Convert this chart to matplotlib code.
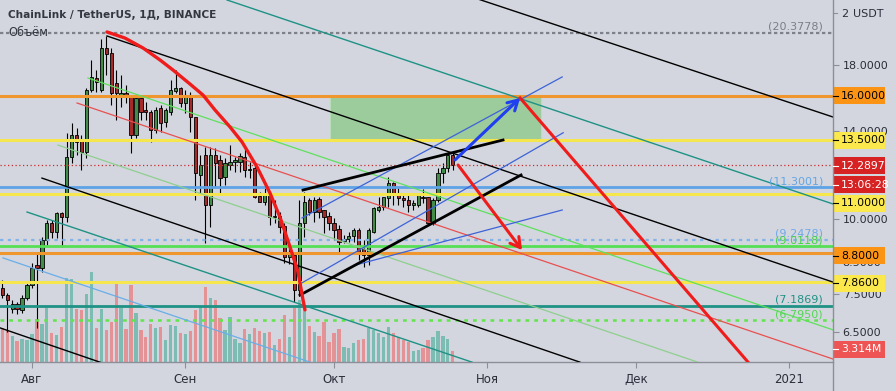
import matplotlib
matplotlib.use("Agg")
import matplotlib.pyplot as plt
import numpy as np
import pandas as pd
from matplotlib.lines import Line2D
from matplotlib.patches import Rectangle
from matplotlib.ticker import FixedLocator, NullLocator
from matplotlib.transforms import IdentityTransform

# ---- data ----
ORIGIN = pd.Timestamp("2020-08-01")
dates = pd.date_range("2020-07-26", "2020-10-25", freq="D")

opens = [7.68, 7.48, 7.09, 7.23, 7.07, 7.40,
         7.77, 8.39, 8.29, 9.23, 9.85, 9.52, 10.23, 10.07, 12.67, 13.78,
         13.52, 12.91, 16.36, 17.13, 16.36, 19.20, 18.81, 16.81, 16.05, 16.17,
         16.05, 13.78, 15.87, 15.16, 15.05, 14.05, 15.27, 14.48, 15.05, 16.30,
         16.49, 15.57, 15.93, 14.76, 11.83, 12.77, 10.55, 12.77, 12.53, 11.74,
         12.29, 12.43, 12.43, 12.67, 12.06, 12.15, 10.92, 10.67, 11.04, 10.07,
         10.11, 9.74, 8.65, 8.72, 7.63, 9.85, 10.75, 10.27, 10.79, 10.35,
         10.11, 9.85, 9.63, 9.19, 9.27, 9.37, 9.59, 8.92, 8.72, 9.52,
         10.35, 10.47, 10.83, 11.47, 11.04, 10.83, 10.75, 10.55, 10.55, 10.88,
         10.88, 9.85, 10.75, 11.92, 12.15, 12.77]
highs = [7.92, 7.54, 7.34, 7.28, 7.48, 7.86,
         8.45, 8.79, 9.34, 9.96, 9.96, 10.27, 10.27, 13.89, 14.43, 14.16,
         13.78, 16.49, 18.35, 17.66, 19.88, 20.10, 19.20, 17.66, 17.33, 16.68,
         16.05, 16.05, 15.93, 15.63, 15.16, 15.33, 15.45, 15.27, 17.00, 17.66,
         16.55, 16.36, 16.24, 14.76, 12.77, 13.16, 13.16, 13.11, 12.77, 12.62,
         13.26, 12.67, 12.87, 13.21, 12.43, 12.29, 11.08, 11.26, 11.08, 10.75,
         10.27, 9.85, 8.99, 8.79, 10.75, 11.08, 10.83, 10.88, 10.88, 10.35,
         10.27, 10.03, 9.77, 9.41, 9.52, 9.66, 9.66, 9.23, 9.66, 10.47,
         10.88, 10.88, 11.74, 11.52, 11.26, 11.04, 10.96, 10.75, 11.04, 11.21,
         10.88, 10.83, 12.15, 12.39, 12.91, 12.91]
lows = [7.40, 6.50, 6.99, 6.96, 6.99, 7.34,
        7.68, 6.59, 8.17, 9.06, 9.30, 9.30, 8.99, 9.88, 12.39, 12.77,
        12.06, 12.62, 16.24, 16.24, 16.24, 17.33, 15.45, 14.59, 15.33, 15.57,
        12.87, 13.62, 14.59, 14.59, 13.42, 13.89, 13.94, 14.21, 14.87, 16.17,
        15.33, 14.99, 13.94, 10.75, 10.96, 9.13, 9.70, 11.30, 10.96, 11.39,
        12.06, 11.97, 11.97, 11.74, 11.69, 10.83, 10.67, 10.55, 9.77, 9.85,
        9.48, 8.45, 8.42, 7.28, 7.45, 9.34, 10.15, 9.88, 10.03, 9.48,
        9.59, 9.23, 8.79, 9.13, 9.16, 9.16, 8.55, 8.33, 8.39, 9.48,
        10.27, 10.35, 10.47, 10.55, 10.55, 10.47, 10.27, 10.35, 10.47, 10.63,
        9.77, 9.77, 10.67, 11.47, 11.97, 12.06]
closes = [7.48, 7.34, 7.23, 7.10, 7.40, 7.77,
          8.29, 8.29, 9.23, 9.85, 9.52, 10.23, 10.07, 12.67, 13.78, 13.42,
          12.91, 16.36, 17.20, 16.87, 19.20, 18.77, 16.17, 16.17, 16.17, 15.99,
          13.78, 15.87, 15.05, 15.05, 14.05, 15.16, 14.43, 15.16, 16.36, 16.49,
          15.57, 15.93, 14.76, 11.92, 12.29, 10.55, 12.77, 12.39, 11.69, 12.39,
          12.43, 12.53, 12.72, 12.06, 12.10, 10.88, 10.67, 11.00, 10.07, 10.11,
          9.70, 8.65, 8.79, 7.63, 9.85, 10.67, 10.27, 10.75, 10.27, 10.07,
          9.85, 9.59, 9.16, 9.27, 9.37, 9.59, 8.79, 8.72, 9.59, 10.43,
          10.47, 10.88, 11.47, 10.96, 10.83, 10.75, 10.55, 10.63, 10.96, 10.83,
          9.85, 10.75, 11.92, 12.15, 12.77, 12.2897]
volumes_m = [10.1, 9.6, 7.8, 6.3, 6.9, 6.6,
             8.4, 12.9, 11.4, 16.2, 8.7, 8.1, 10.5, 25.2, 24.9, 15.9,
             15.6, 20.4, 27.0, 10.2, 15.9, 9.6, 12.0, 23.7, 16.2, 9.9,
             23.1, 14.7, 9.6, 7.5, 11.4, 10.2, 10.5, 6.6, 11.1, 10.8,
             8.7, 8.4, 9.3, 15.6, 16.5, 22.5, 19.2, 18.6, 13.2, 9.6,
             13.5, 6.9, 5.7, 9.9, 8.4, 10.2, 9.3, 8.7, 9.0, 5.1,
             6.9, 14.1, 7.5, 16.2, 18.6, 17.1, 10.8, 9.0, 7.8, 12.0,
             6.0, 8.7, 9.9, 4.5, 4.2, 5.7, 6.6, 6.9, 10.2, 9.6,
             8.7, 7.5, 10.5, 8.7, 7.5, 6.6, 6.0, 3.3, 3.6, 4.2,
             6.6, 7.5, 9.3, 7.8, 6.9, 3.314]

month_starts = pd.date_range("2020-08-01", "2021-01-01", freq="MS")
month_labels = ["Авг", "Сен", "Окт", "Ноя", "Дек", "2021"]
price_ticks = [6.5, 7.5, 8.5, 10.0, 14.0, 18.0]

# horizontal rays with a value label, and levels with an axis box
ray_prices = [20.3778, 11.3001, 9.2478, 9.0118, 7.1869, 6.7950]
level_prices = [16.0, 13.5, 11.0, 8.8, 7.86]
last_price = 12.2897
countdown = "13:06:28"
last_volume = "3.314M"

# drawings: (day offset from 1 Aug, price)
channel_black = [[(74.3, 25.57), (161.8, 14.76)],
                 [(15.15, 20.11), (161.8, 7.86)],
                 [(2.02, 11.69), (110.7, 5.79)],
                 [(-6.46, 6.60), (13.74, 5.79)]]
channel_teal = [[(39.4, 23.07), (161.8, 10.59)],
                [(-1.0, 10.27), (88.9, 5.79)]]
channel_red = [(9.1, 15.57), (161.8, 5.86)]
channel_green = [(11.3, 17.13), (161.8, 6.55)]
channel_pale = [(5.25, 13.26), (134.5, 5.79)]
channel_blue = [(-5.86, 8.62), (56.2, 5.79)]
wedge_upper = [(54.75, 11.17), (95.15, 13.52)]
wedge_lower = [(54.14, 7.48), (98.79, 11.83)]
blue_thin = [[(54.55, 10.04), (107.1, 17.20)],
             [(54.1, 7.80), (107.3, 13.90)],
             [(65.6, 8.40), (107.1, 10.35)]]
arc_days = [15.15, 18.79, 22.42, 25.86, 28.48, 31.92, 34.55, 36.97, 40.0,
            42.42, 45.45, 48.08, 50.1, 52.12, 53.74, 54.75, 55.15]
arc_prices = [20.42, 19.95, 19.21, 18.35, 17.66, 16.74, 16.05, 15.16, 14.21,
              13.42, 12.20, 11.04, 10.07, 8.99, 8.17, 7.34, 7.07]
target_box = [(60.2, 13.57), (102.8, 16.0)]
blue_arrow = [(85.45, 12.53), (98.6, 15.87)]
red_arrow = [(86.06, 12.29), (99.0, 8.88)]
red_drop = [(98.6, 15.87), (144.65, 5.79)]

# ---- layout ----
W, H = 896, 391
RIGHT, BOTTOM = 833, 362
BG = "#d3d6de"
AXIS = "#8c8f97"
TEXT = "#2a2e39"

fig = plt.figure(figsize=(W / 100, H / 100), dpi=100)
fig.patch.set_facecolor(BG)
rect = [0, (H - BOTTOM) / H, RIGHT / W, BOTTOM / H]
axv = fig.add_axes(rect)
ax = fig.add_axes(rect)
ax.set_facecolor("none")

x = np.asarray((dates - ORIGIN).days, dtype=float)
o, h, l, c = map(np.asarray, (opens, highs, lows, closes))
up = c >= o
xlim = (-6.46, 161.8)

# volume underneath
vol_colors = np.where(up, "#7cbcb3", "#e39296")
axv.bar(x, volumes_m, width=0.66, color=vol_colors, linewidth=0)
axv.set_xlim(*xlim)
axv.set_ylim(0, 109.1)
axv.axis("off")

ax.set_yscale("log")
ax.set_xlim(*xlim)
ax.set_ylim(5.794, 23.07)

# candles
ax.vlines(x, l, h, color="black", linewidth=0.8, zorder=2)
ax.bar(x, np.abs(c - o), bottom=np.minimum(o, c), width=0.66,
       color=np.where(up, "#428c48", "#a52a2a"), edgecolor="black",
       linewidth=0.6, zorder=2)

# horizontal rays
ray_style = [("#7e8189", (0, (1.5, 1.2)), 1.6, "#7b7e86"),
             ("#5ea3e6", "-", 2.0, "#62a6e6"),
             ("#84b3ea", (0, (1.5, 2)), 1.6, "#6fa9e8"),
             ("#55df55", "-", 2.0, "#45d445"),
             ("#1e9285", "-", 2.0, "#1e9285"),
             ("#62e44c", (0, (1.5, 2)), 1.8, "#52d652")]
for p, (col, ls, lw, tc) in zip(ray_prices, ray_style):
    ax.axhline(p, color=col, linestyle=ls, linewidth=lw, zorder=3)
    ax.annotate(f"({p:.4f})", xy=(0.988, p), xycoords=("axes fraction", "data"),
                xytext=(0, 0.5), textcoords="offset points", ha="right", va="bottom",
                fontsize=8, color=tc, zorder=4)

level_colors = ["#f0962e", "#f6e64e", "#f6e64e", "#f0962e", "#f6e64e"]
for p, col in zip(level_prices, level_colors):
    ax.axhline(p, color=col, linewidth=2.2, zorder=3)
ax.axhline(last_price, color="#cc2b2b", linestyle=(0, (1, 2)), linewidth=0.9, zorder=3)

# channel lines
def seg(pts, **kw):
    xs, ys = zip(*pts)
    ax.plot(xs, ys, **kw)

for line in channel_black:
    seg(line, color="black", linewidth=1.0, zorder=3)
for line in channel_teal:
    seg(line, color="#1e9285", linewidth=1.0, zorder=3)
seg(channel_red, color="#e85050", linewidth=0.9, zorder=3)
seg(channel_green, color="#5fe05f", linewidth=0.9, zorder=3)
seg(channel_pale, color="#8fcf8f", linewidth=0.9, zorder=3)
seg(channel_blue, color="#6aaee8", linewidth=0.9, zorder=3)
for line in blue_thin:
    seg(line, color="#3d63d8", linewidth=0.9, zorder=3)
seg(wedge_upper, color="black", linewidth=2.0, zorder=4)
seg(wedge_lower, color="black", linewidth=2.0, zorder=4)

(bx0, by0), (bx1, by1) = target_box
ax.add_patch(Rectangle((bx0, by0), bx1 - bx0, by1 - by0, facecolor="#9ccb9c",
                       edgecolor="#b9dcb9", linewidth=0.8, zorder=2.5))

ax.plot(arc_days, arc_prices, color="#f01c1c", linewidth=2.4, zorder=4,
        solid_capstyle="round")
seg(red_drop, color="#f01c1c", linewidth=2.2, zorder=4)
for (p0, p1), col in ((blue_arrow, "#1f3ff0"), (red_arrow, "#f01c1c")):
    ax.annotate("", xy=p1, xytext=p0, zorder=5,
                arrowprops=dict(arrowstyle="->,head_length=0.7,head_width=0.4",
                                color=col, lw=2.2, shrinkA=0, shrinkB=0))

# axes dressing
for side in ("top", "left", "right"):
    ax.spines[side].set_visible(False)
ax.spines["bottom"].set_color(AXIS)
ax.spines["bottom"].set_linewidth(1.0)
fig.add_artist(Line2D([RIGHT, RIGHT], [0, H], transform=IdentityTransform(),
                      color=AXIS, linewidth=1.0))

ax.yaxis.tick_right()
ax.yaxis.set_major_locator(FixedLocator(price_ticks))
ax.yaxis.set_minor_locator(NullLocator())
ax.set_yticklabels([f"{t:.4f}" for t in price_ticks])
ax.tick_params(axis="y", length=4, color=AXIS, labelsize=8, labelcolor=TEXT, pad=3)
ax.set_xticks((month_starts - ORIGIN).days)
ax.set_xticklabels(month_labels)
ax.tick_params(axis="x", length=4, color=AXIS, labelsize=8.5, labelcolor=TEXT, pad=4)

# axis boxes on the price scale
def box(ypix, text, fc, tc="black"):
    fig.add_artist(Rectangle((RIGHT, ypix - 8.5), 52, 17, transform=IdentityTransform(),
                             facecolor=fc, edgecolor="none"))
    fig.add_artist(Line2D([RIGHT, RIGHT + 5], [ypix, ypix], transform=IdentityTransform(),
                          color=tc, linewidth=0.8))
    fig.text(RIGHT + 8, ypix, text, transform=IdentityTransform(), va="center",
             ha="left", fontsize=7.8, color=tc)

def py(p):
    return ax.transData.transform((0, p))[1]

box_colors = ["#fb9414", "#fbe84c", "#fbe84c", "#fb9414", "#fbe84c"]
box_shift = [0, 0, -9, -3, -1]
for p, fc, dy in zip(level_prices, box_colors, box_shift):
    box(py(p) + dy, f"{p:.4f}", fc)
box(py(last_price) - 1, f"{last_price:.4f}", "#d62222", "white")
box(py(last_price) - 20, countdown, "#d62222", "white")
box(axv.transData.transform((0, volumes_m[-1]))[1] + 2, last_volume, "#ee5454", "white")

# scale header: clipped top tick and currency
fig.add_artist(Line2D([RIGHT, RIGHT + 4], [H - 13, H - 13], transform=IdentityTransform(),
                      color=AXIS, linewidth=0.8))
fig.text(RIGHT + 8, H - 14, "2", transform=IdentityTransform(), va="center",
         ha="left", fontsize=8, color=TEXT)
fig.text(RIGHT + 20, H - 14, "USDT", transform=IdentityTransform(), va="center",
         ha="left", fontsize=8, color=TEXT)

fig.text(8, H - 15, "ChainLink / TetherUS, 1Д, BINANCE", transform=IdentityTransform(),
         va="center", ha="left", fontsize=7.6, weight="bold", color="#333740")
fig.text(8, H - 33, "Объём", transform=IdentityTransform(), va="center", ha="left",
         fontsize=8.3, color="#333740")

fig.savefig("out.png", dpi=100, facecolor=BG)
